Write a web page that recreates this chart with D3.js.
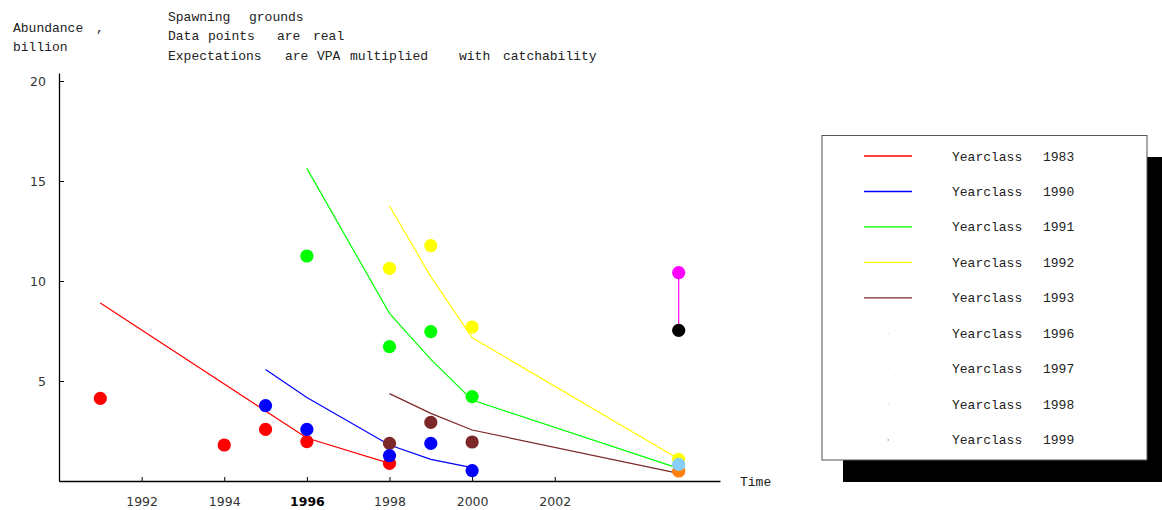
<!DOCTYPE html>
<html>
<head>
<meta charset="utf-8">
<script src="https://cdn.jsdelivr.net/npm/d3@7"></script>
<style>
  html, body { margin: 0; padding: 0; background: #fff; }
  svg { display: block; }
  .mono { font-family: "Liberation Mono", "Courier New", monospace; font-size: 13px; fill: #222; }
  .tick text { font-family: "DejaVu Sans", sans-serif; font-size: 12.5px; fill: #333; }
</style>
</head>
<body>
<svg id="chart" width="1162" height="510"></svg>
<script>
// Yearclasses shown in the legend
const yearclasses = ["1983", "1990", "1991", "1992", "1993", "1996", "1997", "1998", "1999"];

// Expected abundance (VPA x catchability), billion
const exp1983Years = [1991, 1996, 1998];
const exp1983 = [8.9, 2.15, 0.88];
const exp1990Years = [1995, 1996, 1998, 1999, 2000];
const exp1990 = [5.58, 4.17, 1.8, 1.08, 0.67];
const exp1991Years = [1996, 1998, 1999, 2000, 2005];
const exp1991 = [15.63, 8.38, 6.08, 4.05, 0.63];
const exp1992Years = [1998, 1999, 2000, 2005];
const exp1992 = [13.75, 10.22, 7.17, 1.1];
const exp1993Years = [1998, 1999, 2000, 2005];
const exp1993 = [4.37, 3.38, 2.55, 0.38];
const exp1998Years = [2005, 2005];
const exp1998 = [10.42, 7.53];

// Survey observations on the spawning grounds, billion
const obs1983Years = [1991, 1994, 1995, 1996, 1998];
const obs1983 = [4.13, 1.8, 2.58, 1.97, 0.88];
const obs1992Years = [1998, 1999, 2000, 2005];
const obs1992 = [10.63, 11.77, 7.7, 1.08];
const obs1991Years = [1996, 1998, 1999, 2000];
const obs1991 = [11.25, 6.72, 7.47, 4.22];
const obs1993Years = [1998, 1999, 2000];
const obs1993 = [1.88, 2.93, 1.95];
const obs1990Years = [1995, 1996, 1998, 1999, 2000];
const obs1990 = [3.77, 2.58, 1.27, 1.88, 0.52];
const obs1996Years = [2005];
const obs1996 = [0.5];
const obs1997Years = [2005];
const obs1997 = [0.83];
const obs1998Years = [2005];
const obs1998 = [10.42];
const obs1999Years = [2005];
const obs1999 = [7.53];

// Axis ticks
const xTickValues = [1992, 1994, 1996, 1998, 2000, 2002];
const yTickValues = [5, 10, 15, 20];

// Colours per yearclass
const colors = {
  "1983": "#ff0000", "1990": "#0000ff", "1991": "#00ff00", "1992": "#ffff00",
  "1993": "#7d2828", "1996": "#ff7f0e", "1997": "#87cefa", "1998": "#ff00ff", "1999": "#000000"
};
const legendMarkColors = {
  "1996": "#ffd9c2", "1997": "#eeeeee", "1998": "#ffc8ff", "1999": "#aaaaaa"
};

const svg = d3.select("#chart");

const x = d3.scaleLinear().domain([1990, 2006]).range([59, 720]);
const y = d3.scaleLinear().domain([0, 20.4]).range([481, 73]);

// Axes with inward ticks
const xAxis = svg.append("g")
  .attr("transform", `translate(0,${y(0)})`)
  .call(d3.axisBottom(x).tickValues(xTickValues).tickFormat(d3.format("d"))
        .tickSizeInner(-4).tickSizeOuter(0).tickPadding(16));
xAxis.select(".domain").attr("stroke", "#000").attr("stroke-width", 1.3);
xAxis.selectAll(".tick line").attr("stroke", "#000");
xAxis.selectAll(".tick text").filter(d => d === 1996)
  .style("font-weight", "bold").style("fill", "#000");

const yAxis = svg.append("g")
  .attr("transform", `translate(${x(1990)},0)`)
  .call(d3.axisLeft(y).tickValues(yTickValues).tickFormat(d3.format("d"))
        .tickSizeInner(-5).tickSizeOuter(0).tickPadding(13));
yAxis.select(".domain").attr("stroke", "#000").attr("stroke-width", 1.3);
yAxis.selectAll(".tick line").attr("stroke", "#000");

// Expectation lines
const line = d3.line().x(d => x(d[0])).y(d => y(d[1]));
const zip = (ys, vs) => ys.map((yr, i) => [yr, vs[i]]);
const lineSeries = [
  ["1983", zip(exp1983Years, exp1983)],
  ["1990", zip(exp1990Years, exp1990)],
  ["1991", zip(exp1991Years, exp1991)],
  ["1992", zip(exp1992Years, exp1992)],
  ["1993", zip(exp1993Years, exp1993)],
  ["1998", zip(exp1998Years, exp1998)]
];
svg.append("g").selectAll("path").data(lineSeries).join("path")
  .attr("d", d => line(d[1]))
  .attr("fill", "none")
  .attr("stroke", d => colors[d[0]])
  .attr("stroke-width", 1.2);

// Observed points
const pointSeries = [
  ["1983", zip(obs1983Years, obs1983)],
  ["1992", zip(obs1992Years, obs1992)],
  ["1991", zip(obs1991Years, obs1991)],
  ["1993", zip(obs1993Years, obs1993)],
  ["1990", zip(obs1990Years, obs1990)],
  ["1996", zip(obs1996Years, obs1996)],
  ["1997", zip(obs1997Years, obs1997)],
  ["1998", zip(obs1998Years, obs1998)],
  ["1999", zip(obs1999Years, obs1999)]
];
const pts = svg.append("g");
pointSeries.forEach(([yc, data]) => {
  pts.selectAll(null).data(data).join("circle")
    .attr("cx", d => x(d[0]))
    .attr("cy", d => y(d[1]))
    .attr("r", 6.6)
    .attr("fill", colors[yc]);
});

// Titles and axis labels
const addWords = (words, xs, yPos) => {
  const t = svg.append("text").attr("class", "mono").attr("y", yPos);
  words.forEach((w, i) => t.append("tspan").attr("x", xs[i]).text(w));
};
addWords(["Abundance", ","], [13, 96], 32);
addWords(["billion"], [13], 51);
addWords(["Spawning", "grounds"], [168, 249], 21);
addWords(["Data", "points", "are", "real"], [168, 208, 277, 313], 40);
addWords(["Expectations", "are", "VPA", "multiplied", "with", "catchability"],
         [168, 285, 317, 350, 459, 503], 60);
addWords(["Time"], [740], 486);

// Legend with drop shadow
const legend = svg.append("g");
legend.append("rect").attr("x", 843).attr("y", 157).attr("width", 330).attr("height", 325).attr("fill", "#000");
legend.append("rect").attr("x", 822).attr("y", 135.5).attr("width", 325).attr("height", 324.5)
  .attr("fill", "#fff").attr("stroke", "#555").attr("stroke-width", 1);
const rowY = d3.scalePoint().domain(yearclasses).range([156, 439.7]);
const rows = legend.selectAll("g.row").data(yearclasses).join("g").attr("class", "row")
  .attr("transform", d => `translate(0,${rowY(d)})`);
rows.filter(d => !legendMarkColors[d]).append("line")
  .attr("x1", 864).attr("x2", 912).attr("y1", 0).attr("y2", 0)
  .attr("stroke", d => colors[d]).attr("stroke-width", d => d === "1990" ? 1.6 : 1.3);
rows.filter(d => legendMarkColors[d]).append("rect")
  .attr("x", 887.5).attr("y", -0.5).attr("width", 1.5).attr("height", 1.5)
  .attr("fill", d => legendMarkColors[d]);
rows.append("text").attr("class", "mono").attr("x", 952).attr("y", 4.5).text("Yearclass");
rows.append("text").attr("class", "mono").attr("x", 1043).attr("y", 4.5).text(d => d);
</script>
</body>
</html>
